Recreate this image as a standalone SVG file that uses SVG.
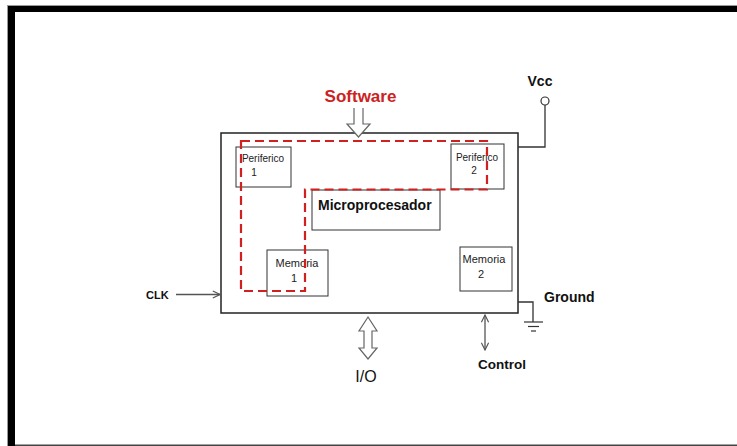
<svg xmlns="http://www.w3.org/2000/svg" width="737" height="446" viewBox="0 0 737 446">
<style>
.box{fill:#fff;stroke:#333;stroke-width:1}
.main{fill:#fff;stroke:#222;stroke-width:1.5}
.small{font-family:"Liberation Sans",Arial,sans-serif;font-size:10px;fill:#222;text-anchor:middle}
.mem{font-family:"Liberation Sans",Arial,sans-serif;font-size:11px;fill:#222;text-anchor:middle}
.lbl{font-family:"Liberation Sans",Arial,sans-serif;font-weight:bold;fill:#111}
.wire{fill:none;stroke:#333;stroke-width:1.3}
.gray{fill:none;stroke:#555;stroke-width:1.3}
.hollow{fill:#fff;stroke:#666;stroke-width:1.2}
.red{fill:none;stroke:#d02020;stroke-width:2.2;stroke-dasharray:9 5}
</style>
<defs>
<marker id="open" viewBox="0 0 10 10" refX="9" refY="5" markerWidth="9" markerHeight="9" orient="auto-start-reverse" markerUnits="userSpaceOnUse">
<path d="M1,1 L9,5 L1,9" fill="none" stroke="#555" stroke-width="1.3"/>
</marker>
</defs>
<rect x="0" y="0" width="737" height="446" fill="#fff"/>
<g id="frame">
<line x1="8" y1="5.5" x2="737" y2="5.5" stroke="#999" stroke-width="1"/>
<line x1="7.5" y1="5" x2="7.5" y2="446" stroke="#999" stroke-width="1"/>
<rect x="8" y="6" width="729" height="6" fill="#000"/>
<rect x="8" y="6" width="7" height="440" fill="#000"/>
<rect x="15" y="444.5" width="722" height="1.5" fill="#444"/>
</g>
<g id="main-box"><rect class="main" x="221" y="133" width="297" height="180"/></g>
<g id="periferico1">
<rect class="box" x="236" y="147" width="55" height="40"/>
<text class="small" x="263" y="162">Periferico</text>
<text class="small" x="254" y="176">1</text>
</g>
<g id="periferico2">
<rect class="box" x="451" y="144" width="53" height="45"/>
<text class="small" x="477" y="161">Periferico</text>
<text class="small" x="474" y="174">2</text>
</g>
<g id="microprocesador">
<rect class="box" x="312" y="190" width="128" height="40"/>
<text class="lbl" x="318" y="210" font-size="14">Microprocesador</text>
</g>
<g id="memoria1">
<rect class="box" x="267" y="250" width="61" height="46"/>
<text class="mem" x="297" y="267">Memoria</text>
<text class="mem" x="294" y="282">1</text>
</g>
<g id="memoria2">
<rect class="box" x="460" y="247" width="52" height="44"/>
<text class="mem" x="484" y="263">Memoria</text>
<text class="mem" x="481" y="278">2</text>
</g>
<g id="software">
<text x="360.5" y="102" font-family="Liberation Sans,Arial,sans-serif" font-weight="bold" font-size="17" fill="#cc2222" text-anchor="middle">Software</text>
</g>
<g id="vcc">
<text class="lbl" x="540" y="86" font-size="14" text-anchor="middle">Vcc</text>
<circle cx="545" cy="101" r="4" fill="#fff" stroke="#333" stroke-width="1.2"/>
</g>
<g id="ground">
<text class="lbl" x="544" y="302" font-size="14">Ground</text>
<line x1="524" y1="322" x2="543" y2="322" stroke="#333" stroke-width="1.2"/>
<line x1="528" y1="326.5" x2="539" y2="326.5" stroke="#333" stroke-width="1.2"/>
<line x1="531" y1="331" x2="536" y2="331" stroke="#333" stroke-width="1.2"/>
</g>
<g id="clk"><text class="lbl" x="146" y="299" font-size="11">CLK</text></g>
<g id="io"><text x="366" y="382" font-family="Liberation Sans,Arial,sans-serif" font-size="16" fill="#111" text-anchor="middle">I/O</text></g>
<g id="control"><text class="lbl" x="502" y="369" font-size="13.5" text-anchor="middle">Control</text></g>
<g id="connectors">
<polygon class="red" points="241,141 487,141 487,189.5 305,189.5 305,291 241,291"/>
<path class="hollow" d="M354,108 L354,124 L347,124 L358.5,137 L370,124 L363,124 L363,108"/>
<polyline class="wire" points="545,105 545,147 518,147"/>
<polyline class="wire" points="518,302 533,302 533,322"/>
<line class="gray" x1="176" y1="294.5" x2="220" y2="294.5" marker-end="url(#open)"/>
<line class="gray" x1="485" y1="315" x2="485" y2="350" marker-start="url(#open)" marker-end="url(#open)"/>
<polygon class="hollow" points="368,317 377,331 372,331 372,348 377,348 368,359 359,348 364,348 364,331 359,331"/>
</g>
</svg>
